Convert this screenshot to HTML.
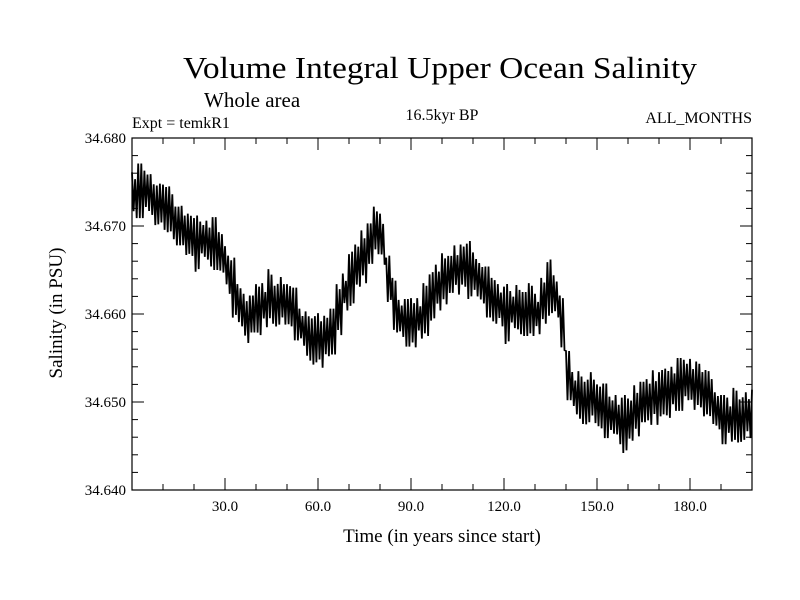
<!DOCTYPE html>
<html><head><meta charset="utf-8"><style>
body{margin:0;background:#fff}
svg{display:block;font-family:"Liberation Serif",serif}
</style></head><body>
<svg id="chart" width="800" height="600" viewBox="0 0 800 600">
<text x="440" y="78" font-size="31" text-anchor="middle" textLength="514" lengthAdjust="spacingAndGlyphs">Volume Integral Upper Ocean Salinity</text>
<text x="204" y="107" font-size="21">Whole area</text>
<text x="132" y="128" font-size="16">Expt = temkR1</text>
<text x="442" y="120" font-size="16" text-anchor="middle">16.5kyr BP</text>
<text x="752" y="123" font-size="16" text-anchor="end">ALL_MONTHS</text>
<text transform="translate(62,313) rotate(-90)" font-size="19" text-anchor="middle">Salinity (in PSU)</text>
<text x="442" y="542" font-size="19" text-anchor="middle">Time (in years since start)</text>
<g id="ticks"></g>
<g id="series"></g>
<rect x="132" y="138" width="620" height="352" fill="none" stroke="#000" stroke-width="1.2"/>
</svg>
<script>
const xTicks=[30,60,90,120,150,180];
const xTickLabels=["30.0","60.0","90.0","120.0","150.0","180.0"];
const yTicks=[34.64,34.65,34.66,34.67,34.68];
const yTickLabels=["34.640","34.650","34.660","34.670","34.680"];
// mean salinity per 2 years (thousandths above 34.640), t=0..200
const meanVals=[33.5,34,34,33,32.5,32,31.5,30,29.5,29,28,28.5,28,28,27,25,23,21,19.5,20,20.5,21,22,21,21.5,21,20,18.5,17.5,17,17,17.5,18,20.5,22.5,24,25.5,26.5,28,29.5,28.5,24,21,19.5,19,19,19.5,20.5,22,23,24,24.5,25,25.5,25,24.5,23.5,22.5,21.5,21,20,20.5,20.5,20,20.5,20,21.5,23,22,19,13,11,10.5,10,10.5,9.5,9,8.5,8,7.5,8,9,10,10,10.5,11,11,11.5,12,12.5,12,12,11,10.5,9,8,8,8.5,8,8.5,9];
// half seasonal spread per 2 years (thousandths)
const spreadVals=[2.6,3.1,2.3,2.9,2.1,2.7,3.0,2.2,2.8,2.4,2.9,2.0,2.6,3.0,2.3,2.7,3.1,2.4,2.8,2.1,2.9,2.5,3.1,2.2,2.7,2.4,3.0,2.1,2.8,2.5,3.1,2.3,2.6,2.9,2.1,2.8,2.4,3.0,2.3,2.7,2.9,2.4,3.1,2.1,2.7,2.8,2.3,3.0,2.5,2.6,2.9,2.1,2.8,2.4,3.0,2.5,2.3,2.9,2.6,2.4,3.1,2.1,2.8,2.5,3.0,2.3,2.6,2.9,2.4,3.1,2.8,2.4,3.0,2.3,2.9,2.5,3.1,2.1,2.8,3.0,2.4,2.9,2.3,2.6,3.1,2.4,2.8,2.5,3.0,2.3,2.9,2.6,2.4,3.0,2.1,2.8,2.5,3.1,2.3,2.6,2.4];
// secondary cycle scale factors per 2 years
const wobbleVals=[0.7,1.0,0.8,0.6,1.1,0.9,0.7,1.0,0.6,0.9,1.1,0.8,0.7,1.0,0.9,0.6,1.1,0.8,0.7,1.0,0.9,0.6,0.8,1.1,0.7,0.9,1.0,0.6,0.8,1.1,0.7,0.9,1.0,0.8,0.6,1.1,0.9,0.7,1.0,0.8,0.6,1.1,0.9,0.7,1.0,0.8,0.6,0.9,1.1,0.7,0.8,1.0,0.6,0.9,1.1,0.7,0.8,1.0,0.9,0.6,1.1,0.7,0.8,1.0,0.9,0.6,0.8,1.1,0.7,0.9,1.0,0.6,0.8,1.1,0.7,0.9,1.0,0.8,0.6,1.1,0.9,0.7,1.0,0.8,0.6,1.1,0.9,0.7,1.0,0.8,0.6,0.9,1.1,0.7,0.8,1.0,0.6,0.9,1.1,0.7,0.8];
const L=132,R=752,T=138,B=490,X0=0,X1=200,Y0=34.64,Y1=34.68;
const xs=v=>L+(v-X0)/(X1-X0)*(R-L);
const ys=v=>B-(v-Y0)/(Y1-Y0)*(B-T);
const NS="http://www.w3.org/2000/svg";
const tg=document.getElementById('ticks');
function ln(x1,y1,x2,y2,name){const e=document.createElementNS(NS,'line');
e.setAttribute('x1',x1);e.setAttribute('y1',y1);e.setAttribute('x2',x2);e.setAttribute('y2',y2);
e.setAttribute('stroke','#000');e.setAttribute('stroke-width','1');


tg.appendChild(e);}
for(let v=10;v<200;v+=10){const x=xs(v);const maj=v%30===0;const l=maj?12:6;
ln(x,B,x,B-l,'x-tick');ln(x,T,x,T+l,'x-tick-top');}
for(let k=0;k<=20;k++){const v=Y0+k*0.002;const y=ys(v);const maj=k%5===0;const l=maj?12:6;
ln(L,y,L+l,y,'y-tick');ln(R,y,R-l,y,'y-tick-right');}
xTicks.forEach((v,i)=>{const t=document.createElementNS(NS,'text');
t.setAttribute('x',xs(v));t.setAttribute('y',B+21);t.setAttribute('font-size','15');t.setAttribute('text-anchor','middle');
t.textContent=xTickLabels[i];


tg.appendChild(t);});
yTicks.forEach((v,i)=>{const t=document.createElementNS(NS,'text');
t.setAttribute('x',L-6);t.setAttribute('y',ys(v)+5);t.setAttribute('font-size','15');t.setAttribute('text-anchor','end');
t.textContent=yTickLabels[i];


tg.appendChild(t);});
let pts=[];
meanVals.forEach((m,i)=>{const t=i*2;const s=spreadVals[i];const w=wobbleVals[i];
const hi=Y0+(m+s)/1000,lo=Y0+(m-s*w)/1000;
const hi2=Y0+(m+s*w)/1000,lo2=Y0+(m-s)/1000;
if(t<=200)pts.push([xs(t),ys(hi)]);
if(t+0.5<=200)pts.push([xs(t+0.5),ys(lo)]);
if(t+1<=200)pts.push([xs(t+1),ys(hi2)]);
if(t+1.5<=200)pts.push([xs(t+1.5),ys(lo2)]);});
const p=document.createElementNS(NS,'polyline');
p.setAttribute('points',pts.map(q=>q[0].toFixed(1)+','+q[1].toFixed(1)).join(' '));
p.setAttribute('fill','none');p.setAttribute('stroke','#000');p.setAttribute('stroke-width','1.8');


document.getElementById('series').appendChild(p);
</script>
</body></html>
